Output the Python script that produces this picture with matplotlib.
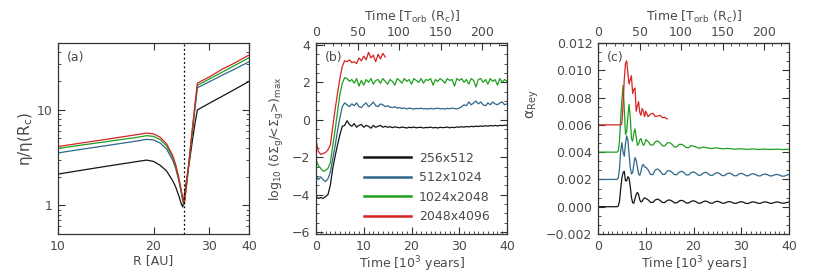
import numpy as np
import matplotlib
matplotlib.use("Agg")
from matplotlib import pyplot as plt
from matplotlib.lines import Line2D
from matplotlib.ticker import MultipleLocator, AutoMinorLocator, FixedLocator, LogLocator, NullFormatter

## Renkler / colours ##
c_black = "#141414"
c_blue = "#2e6888"
c_green = "#1f9e1f"
c_red = "#d42424"
txt = "#4a4a4a"

labels = ["256x512", "512x1024", "1024x2048", "2048x4096"]

## (a) eta profile ##
R = [10, 12, 14, 16, 18, 19, 20, 21, 22, 23, 23.5, 24, 24.5, 24.75, 25, 25.5, 26, 26.5, 27, 27.5, 28, 30, 33, 36, 40]
eta_black = [2.12, 2.34, 2.54, 2.72, 2.89, 2.97, 2.88, 2.62, 2.28, 1.8, 1.55, 1.27, 1.02, 0.96, 1.25, 1.97, 2.96, 4.66, 7.06, 9.95, 10.3, 11.7, 13.9, 16.3, 19.8]
eta_blue = [3.53, 3.88, 4.18, 4.47, 4.74, 4.9, 4.83, 4.48, 3.87, 2.95, 2.42, 1.85, 1.32, 1.1, 1.02, 1.75, 3.2, 5.7, 10.0, 17.0, 17.5, 19.65, 23.1, 26.6, 31.8]
eta_green = [3.93, 4.29, 4.6, 4.9, 5.18, 5.35, 5.27, 4.87, 4.18, 3.15, 2.55, 1.93, 1.36, 1.13, 1.03, 1.8, 3.3, 6.0, 10.6, 18.0, 18.6, 21.0, 24.9, 29.0, 35.0]
eta_red = [4.12, 4.51, 4.87, 5.21, 5.53, 5.7, 5.6, 5.15, 4.4, 3.3, 2.65, 2.0, 1.4, 1.15, 1.04, 1.83, 3.4, 6.2, 11.1, 19.0, 19.6, 22.1, 26.7, 30.8, 37.4]
R_c = 25.0

## (b) log10 (dSigma/<Sigma>)_max, t = 0..40 kyr step 0.5 ##
t_b = np.arange(0, 40.01, 0.5)
sig_black = [-4.1, -4.2, -4.15, -4.2, -4.1, -4.0, -3.5, -2.6, -1.95, -1.35, -0.8, -0.35, -0.3, -0.05, -0.25, -0.35, -0.2, -0.4, -0.3, -0.25,
             -0.4, -0.3, -0.35, -0.45, -0.3, -0.4, -0.35, -0.3, -0.4, -0.35, -0.4, -0.37, -0.42, -0.38, -0.4, -0.43, -0.39, -0.41, -0.44, -0.4,
             -0.42, -0.39, -0.43, -0.41, -0.4, -0.44, -0.41, -0.42, -0.39, -0.43, -0.41, -0.44, -0.4, -0.42, -0.41, -0.39, -0.43, -0.4, -0.42, -0.38,
             -0.4, -0.37, -0.39, -0.36, -0.38, -0.35, -0.37, -0.34, -0.36, -0.33, -0.35, -0.32, -0.34, -0.31, -0.33, -0.3, -0.33, -0.3, -0.31, -0.29, -0.3]
sig_blue = [-2.95, -3.2, -3.05, -3.2, -3.3, -3.15, -2.8, -2.1, -1.4, -0.6, 0.1, 0.7, 0.9, 0.8, 0.7, 0.85, 0.75, 0.9, 0.7, 0.65,
            0.8, 0.9, 0.7, 0.8, 0.95, 0.75, 0.7, 0.85, 0.8, 0.7, 0.75, 0.68, 0.65, 0.7, 0.62, 0.65, 0.6, 0.63, 0.58, 0.62,
            0.6, 0.57, 0.61, 0.59, 0.62, 0.58, 0.6, 0.57, 0.61, 0.58, 0.6, 0.62, 0.58, 0.6, 0.57, 0.61, 0.59, 0.62, 0.6, 0.58,
            0.62, 0.7, 0.8, 0.75, 0.95, 0.8, 0.9, 1.0, 0.85, 0.95, 0.8, 0.75, 0.9, 0.8, 0.95, 0.85, 0.8, 0.9, 0.95, 0.8, 0.85]
sig_green = [-2.15, -2.45, -2.6, -2.75, -2.7, -2.6, -2.3, -1.4, -0.55, 0.4, 1.35, 1.95, 2.25, 2.2, 2.05, 2.15, 1.95, 2.2, 1.8, 2.1,
             1.85, 2.15, 2.0, 2.2, 1.9, 2.1, 2.15, 1.95, 2.2, 2.05, 1.9, 2.15, 2.05, 1.85, 2.2, 2.1, 1.95, 2.2, 2.05, 2.15,
             1.9, 2.2, 2.1, 2.0, 2.2, 1.95, 2.15, 2.1, 2.2, 1.85, 2.15, 2.05, 2.2, 2.1, 1.95, 2.2, 2.1, 2.15, 1.8, 2.2,
             2.1, 2.2, 2.0, 2.15, 1.9, 2.2, 2.1, 1.75, 2.15, 2.2, 2.0, 2.15, 1.9, 2.2, 2.05, 2.15, 1.85, 2.2, 2.0, 2.15, 2.05]
t_b_red = t_b[:30]
sig_red = [-1.1, -1.7, -1.85, -1.8, -1.75, -1.6, -1.35, -0.4, 0.55, 1.4, 2.2, 2.85, 3.15, 3.1, 3.2, 3.05, 3.1, 3.0, 3.3, 3.15,
           3.4, 3.2, 3.6, 3.3, 3.45, 3.1, 3.5, 3.25, 3.55, 3.35]

## (c) alpha_Rey ##
t_c = np.concatenate([[0, 4], np.arange(4.25, 10, 0.25), np.arange(10, 40.01, 0.5)])
alp_black = [0, 0,
             0.00005, 0.0004, 0.0013, 0.0021, 0.0025, 0.0026, 0.0019, 0.0019, 0.0022, 0.0021, 0.0015, 0.0007,
             0.0003, 0.00025, 0.0006, 0.0009, 0.00105, 0.0009, 0.0005, 0.00035, 0.0004, 0.00055, 0.00065,
             0.00061, 0.0005, 0.00032, 0.00032, 0.0005, 0.00056, 0.00046, 0.00031, 0.00031, 0.00046,
             0.0005, 0.00042, 0.00028, 0.00028, 0.00042, 0.00047, 0.0004, 0.00027, 0.00027, 0.00039,
             0.00044, 0.00037, 0.00026, 0.00026, 0.00037, 0.00042, 0.00036, 0.00026, 0.00026, 0.00036,
             0.0004, 0.00035, 0.00026, 0.00026, 0.00034, 0.00038, 0.00033, 0.00025, 0.00025, 0.00033,
             0.00037, 0.00032, 0.00024, 0.00024, 0.00032, 0.00036, 0.00032, 0.00025, 0.00025, 0.00032,
             0.00036, 0.00032, 0.00025, 0.00025, 0.00032, 0.00035, 0.00032, 0.00026, 0.00026, 0.00031,
             0.00034]
alp_blue = [0.002, 0.002,
            0.0021, 0.0028, 0.0041, 0.0047, 0.0040, 0.0037, 0.0046, 0.0052, 0.0049, 0.0039, 0.0029, 0.0024,
            0.0025, 0.0031, 0.0036, 0.0034, 0.0029, 0.0024, 0.0023, 0.0026, 0.003, 0.0031, 0.0029,
            0.0029, 0.0027, 0.00236, 0.00236, 0.0027, 0.00277, 0.00262, 0.00237, 0.00237, 0.00262,
            0.00264, 0.00253, 0.00235, 0.00235, 0.00253, 0.0026, 0.0025, 0.00233, 0.00233, 0.0025,
            0.00256, 0.00246, 0.00231, 0.00231, 0.00246, 0.00253, 0.00244, 0.0023, 0.0023, 0.00244,
            0.0025, 0.00242, 0.00228, 0.00228, 0.00242, 0.00247, 0.0024, 0.00227, 0.00227, 0.0024,
            0.00245, 0.00238, 0.00227, 0.00227, 0.00238, 0.00242, 0.00236, 0.00226, 0.00226, 0.00236,
            0.0024, 0.00234, 0.00226, 0.00226, 0.00234, 0.00237, 0.00232, 0.00224, 0.00224, 0.00232,
            0.00236]
alp_green = [0.004, 0.004,
             0.0041, 0.0048, 0.0065, 0.0078, 0.0089, 0.0072, 0.0053, 0.0055, 0.0066, 0.0075, 0.0066, 0.0050,
             0.0048, 0.0054, 0.0057, 0.0051, 0.0045, 0.0046, 0.0049, 0.0050, 0.0047, 0.0045, 0.0046,
             0.00492, 0.00477, 0.00452, 0.00452, 0.00477, 0.00482, 0.00468, 0.00446, 0.00446, 0.00468,
             0.00469, 0.00457, 0.00438, 0.00438, 0.00457, 0.00457, 0.00448, 0.00433, 0.00433, 0.00448,
             0.00444, 0.00438, 0.0043, 0.0043, 0.00438, 0.00434, 0.00431, 0.00427, 0.00427, 0.00431,
             0.0043, 0.00428, 0.00425, 0.00425, 0.00428, 0.00426, 0.00425, 0.00422, 0.00422, 0.00425,
             0.00424, 0.00423, 0.00421, 0.00421, 0.00423, 0.00423, 0.00422, 0.0042, 0.0042, 0.00422,
             0.00422, 0.00421, 0.0042, 0.0042, 0.00421, 0.00422, 0.00421, 0.00419, 0.0042, 0.00421,
             0.00421]
t_c_red = t_c[:35]
alp_red = [0.006, 0.006,
           0.006, 0.006, 0.006, 0.0061, 0.0075, 0.0093, 0.0105, 0.0107, 0.0098, 0.0090, 0.0093, 0.0096,
           0.0083, 0.0086, 0.0087, 0.0070, 0.0074, 0.0077, 0.0069, 0.0067, 0.0072, 0.0070, 0.0066,
           0.0070, 0.0066, 0.0068, 0.00685, 0.0066, 0.00665, 0.0067, 0.00653, 0.00655, 0.00643]

T_orb = 40.0 / 230.0   # kyr per orbit at R_c

plt.rcParams["font.family"] = ["DejaVu Sans"]
plt.rcParams["font.size"] = 9
plt.rcParams["text.color"] = txt
plt.rcParams["axes.labelcolor"] = txt
plt.rcParams["xtick.color"] = "#333333"
plt.rcParams["ytick.color"] = "#333333"
plt.rcParams["xtick.labelcolor"] = txt
plt.rcParams["ytick.labelcolor"] = txt
plt.rcParams["axes.edgecolor"] = "#333333"
plt.rcParams["mathtext.default"] = "regular"

fig = plt.figure(figsize=(8.3, 2.76), dpi=100)
W, H = 191 / 830, 191 / 276
bot = 42 / 276
ax_a = fig.add_axes([58 / 830, bot, W, H])
ax_b = fig.add_axes([316 / 830, bot, W, H])
ax_c = fig.add_axes([598 / 830, bot, W, H])

def style(ax, top=True):
    ax.tick_params(which="both", direction="in", top=top, right=True, labelsize=9, pad=4)
    ax.tick_params(which="major", length=5, width=0.8)
    ax.tick_params(which="minor", length=2.5, width=0.6)
    for s in ax.spines.values():
        s.set_linewidth(0.9)

## (a) ##
lw = 0.9
for y, c in zip([eta_black, eta_blue, eta_green, eta_red], [c_black, c_blue, c_green, c_red]):
    ax_a.plot(R, y, color=c, lw=lw)
ax_a.axvline(R_c, color="black", lw=0.9, ls=(0, (1.5, 2)))
ax_a.set_xscale("log")
ax_a.set_yscale("log")
ax_a.set_xlim(10, 40)
ax_a.set_ylim(0.5, 50)
ax_a.xaxis.set_major_locator(FixedLocator([10, 20, 30, 40]))
ax_a.xaxis.set_minor_locator(FixedLocator([]))
ax_a.set_xticklabels(["10", "20", "30", "40"])
ax_a.yaxis.set_major_locator(FixedLocator([1, 10]))
ax_a.yaxis.set_minor_locator(LogLocator(base=10, subs=np.arange(2, 10)))
ax_a.yaxis.set_minor_formatter(NullFormatter())
ax_a.set_yticklabels(["1", "10"])
style(ax_a)
ax_a.set_xlabel("R [AU]", labelpad=1)
ax_a.set_ylabel(r"$\eta/\eta(\mathrm{R_c})$", fontsize=11)
ax_a.yaxis.set_label_coords(-0.12, 0.5)
ax_a.text(0.045, 0.925, "(a)", transform=ax_a.transAxes, va="center")

## (b) ##
ax_b.plot(t_b, sig_black, color=c_black, lw=lw)
ax_b.plot(t_b, sig_blue, color=c_blue, lw=lw)
ax_b.plot(t_b, sig_green, color=c_green, lw=lw)
ax_b.plot(t_b_red, sig_red, color=c_red, lw=lw)
ax_b.set_xlim(0, 40)
ax_b.set_ylim(-6.1, 4.1)
ax_b.xaxis.set_major_locator(MultipleLocator(10))
ax_b.xaxis.set_minor_locator(MultipleLocator(1))
ax_b.yaxis.set_minor_locator(MultipleLocator(0.5))
ax_b.set_yticks([-6, -4, -2, 0, 2, 4])
ax_b.set_yticklabels(["\u22126", "\u22124", "\u22122", "0", "2", "4"])
style(ax_b, top=False)
ax_b.set_xlabel(r"Time [10$^3$ years]", labelpad=1)
ax_b.set_ylabel(r"log$_{10}$ ($\delta\Sigma_g$/<$\Sigma_g$>)$_{max}$")
ax_b.yaxis.set_label_coords(-0.155, 0.5)
ax_b.text(0.045, 0.925, "(b)", transform=ax_b.transAxes, va="center")

# legend lines
handles = [Line2D([], [], color=c, lw=1.8) for c in [c_black, c_blue, c_green, c_red]]
ax_b.legend(handles, labels, loc="upper left", bbox_to_anchor=(0.251, 0.43), frameon=False,
            borderpad=0, borderaxespad=0, handlelength=3.8, handletextpad=0.6, labelspacing=0.52, fontsize=9)

## (c) ##
ax_c.plot(t_c, alp_black, color=c_black, lw=lw)
ax_c.plot(t_c, alp_blue, color=c_blue, lw=lw)
ax_c.plot(t_c, alp_green, color=c_green, lw=lw)
ax_c.plot(t_c_red, alp_red, color=c_red, lw=lw)
ax_c.set_xlim(0, 40)
ax_c.set_ylim(-0.002, 0.012)
ax_c.xaxis.set_major_locator(MultipleLocator(10))
ax_c.xaxis.set_minor_locator(MultipleLocator(1))
ax_c.set_yticks([-0.002, 0, 0.002, 0.004, 0.006, 0.008, 0.010, 0.012])
ax_c.set_yticklabels(["\u22120.002", "0.000", "0.002", "0.004", "0.006", "0.008", "0.010", "0.012"])
ax_c.yaxis.set_minor_locator(AutoMinorLocator(3))
style(ax_c, top=False)
ax_c.set_xlabel(r"Time [10$^3$ years]", labelpad=1)
ax_c.set_ylabel(r"$\alpha_{Rey}$", fontsize=10)
ax_c.yaxis.set_label_coords(-0.3, 0.68)
ax_c.text(0.045, 0.925, "(c)", transform=ax_c.transAxes, va="center")

## ust eksen: orbit zamani ##
for ax in (ax_b, ax_c):
    sec = ax.secondary_xaxis("top", functions=(lambda t: t / T_orb, lambda o: o * T_orb))
    sec.xaxis.set_major_locator(MultipleLocator(50))
    sec.xaxis.set_minor_locator(MultipleLocator(10))
    sec.tick_params(which="both", direction="in", labelsize=9, pad=3, colors="#333333", labelcolor=txt)
    sec.tick_params(which="major", length=5, width=0.8)
    sec.tick_params(which="minor", length=2.5, width=0.6)
    sec.set_xlabel(r"Time [T$_{orb}$ (R$_c$)]", labelpad=3.5, color=txt)

fig.savefig("out.png", dpi=100)
